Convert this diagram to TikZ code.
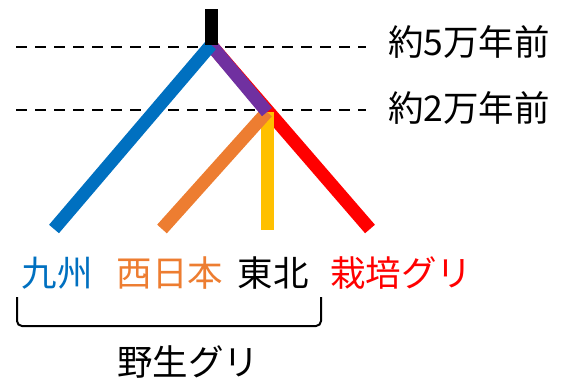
\documentclass[tikz,border=0pt]{standalone}
\usepackage{fontspec}
\setmainfont{Noto Sans CJK JP}
\usepackage{xcolor}
\usepackage{tikz}

\definecolor{kblue}{HTML}{0070C0}
\definecolor{korange}{HTML}{ED7D31}
\definecolor{kyellow}{HTML}{FFC000}
\definecolor{kred}{HTML}{FF0000}
\definecolor{kpurple}{HTML}{7030A0}

\begin{document}
\begin{tikzpicture}[x=1pt,y=-1pt,
    branch/.style={line width=13pt},
    era/.style={line width=2.2pt, dash pattern=on 11pt off 8pt},
    lbl/.style={inner sep=0pt, font=\fontsize{35.5}{40}\selectfont}]
                    \useasboundingbox (0,0) rectangle (563,383);

                    \coordinate (Top) at (211,9);
                    \coordinate (R0) at (211,45);
                    \coordinate (R1) at (267,112);
                    \coordinate (Kyushu) at (54,229);
                    \coordinate (Nishi) at (162,229);
                    \coordinate (Tohoku) at (267,230);
                    \coordinate (Saibai) at (370,229);

                    \coordinate (E5a) at (16,47);
                    \coordinate (E5b) at (366,47);
                    \coordinate (E2a) at (16,110);
                    \coordinate (E2b) at (366,110);

                    \draw[era] (E5a) -- (E5b);
                    \draw[era] (E2a) -- (E2b);

                    \draw[branch, kred] (R0) -- (Saibai);
                    \draw[branch, kyellow] (R1) -- (Tohoku);
                    \draw[branch, korange] (R1) -- (Nishi);
                    \draw[branch, kpurple] (R0) -- (R1);
                    \draw[branch, kblue] (R0) -- (Kyushu);
                    \draw[branch, black] (Top) -- (R0);

                    \node[lbl, text=kblue] (L0) at (57,273) {九州};
                    \node[lbl, text=korange] (L1) at (170,273) {西日本};
                    \node[lbl, text=black] (L2) at (273,273) {東北};
                    \node[lbl, text=kred] (L3) at (401,273) {栽培グリ};

                    \node[lbl, anchor=west] (T5) at (388,42) {約5万年前};
                    \node[lbl, anchor=west] (T2) at (388,108) {約2万年前};

                    \coordinate (B0) at (17,297);
                    \coordinate (B1) at (321,297);
                    \draw[line width=2pt, rounded corners=5pt] (B0) -- (B0 |- 0,326) -- (B1 |- 0,326) -- (B1);
                    \node[lbl] (Wild) at (188,362) {野生グリ};
                 \end{tikzpicture}
\end{document}
